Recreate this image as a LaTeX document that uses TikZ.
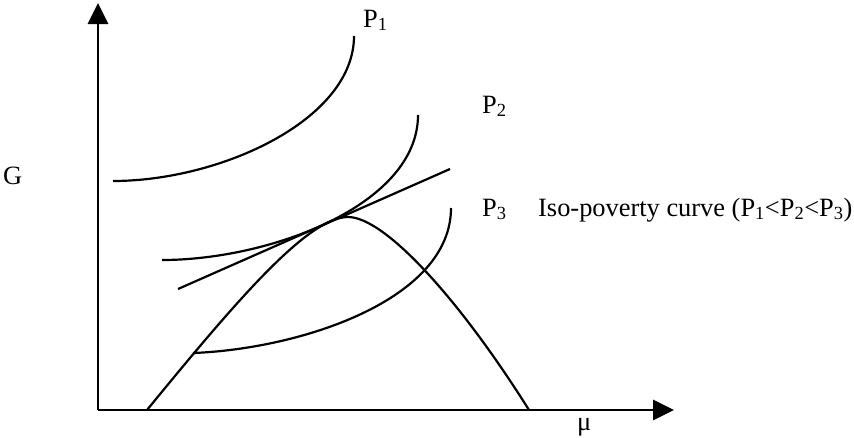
\documentclass[tikz,border=0pt]{standalone}
\usepackage{fontspec}
\setmainfont{Liberation Serif}
\usetikzlibrary{arrows.meta}
\tikzset{
  axisline/.style={line width=2.8pt,-{Triangle[length=21pt,width=20pt]}},
  curve/.style={line width=2.2pt},
  lab/.style={inner sep=0pt,anchor=base west,font=\fontsize{26.4}{30}\selectfont}
}
\begin{document}
\begin{tikzpicture}[x=1pt,y=-1pt]
\useasboundingbox (0,0) rectangle (854,437);
% axes
\coordinate (o) at (98,410);
\coordinate (ytop) at (98,3);
\coordinate (xend) at (674,410);
\draw[axisline] (o) -- (ytop);
\draw[axisline] (o) -- (xend);
\node[lab] (g) at (3,184) {G};
\node[lab] (mu) at (577,430) {μ};
% iso-poverty curves
\draw[curve] (113,181) .. controls (220,181) and (354,120) .. (354,36);
\draw[curve] (162,260) .. controls (270,260) and (418,205) .. (418,115);
\draw[curve] (193,353) .. controls (300,349) and (451,300) .. (451,208);
% tangent line
\draw[curve] (178,289) -- (450,169);
% frontier
\draw[curve] (147,410) .. controls (237,300) and (308,217) .. (348,217)
  .. controls (385,217) and (460,300) .. (529,410);
\node[lab] (p1) at (363,27) {P\textsubscript{1}};
\node[lab] (p2) at (482,113) {P\textsubscript{2}};
\node[lab] (p3) at (482,216) {P\textsubscript{3}};
\node[lab] (iso) at (538,216) {Iso-poverty curve (P\textsubscript{1}<P\textsubscript{2}<P\textsubscript{3})};
\end{tikzpicture}
\end{document}
